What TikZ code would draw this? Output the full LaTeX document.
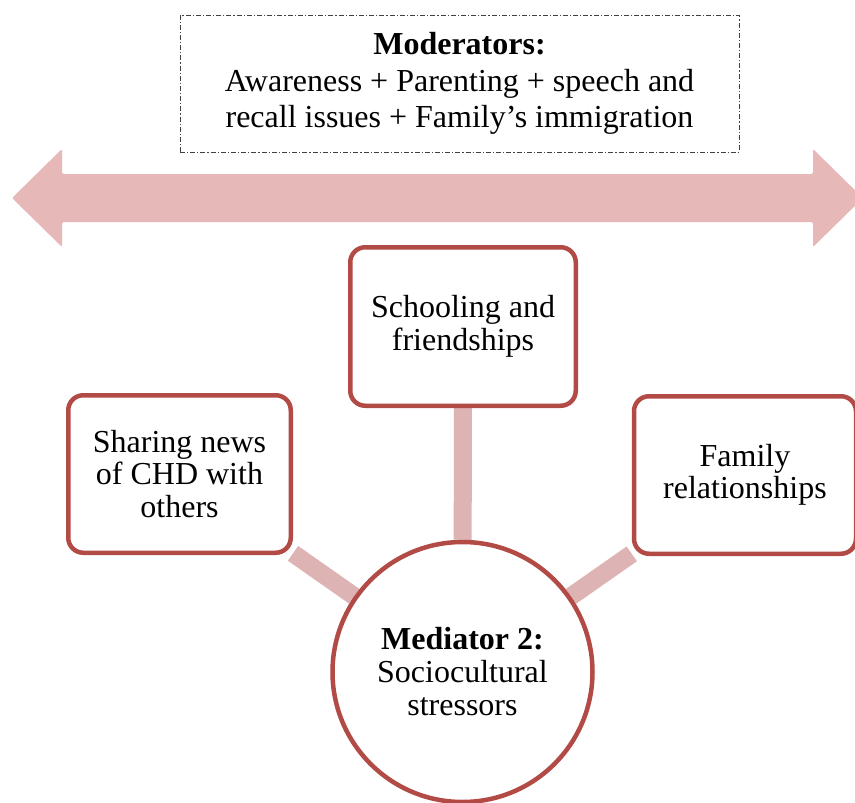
\documentclass[tikz,border=0pt]{standalone}
\usepackage{fontspec}
\setmainfont{Liberation Serif}
\usetikzlibrary{backgrounds}
\definecolor{boxred}{HTML}{B24A46}
\definecolor{linkpink}{HTML}{DDB3B3}
\definecolor{arrowpink}{HTML}{E6B8B7}
\definecolor{framegray}{HTML}{404040}
\begin{document}
\begin{tikzpicture}[x=1pt,y=-1pt,
  stressbox/.style={draw=boxred, line width=4.5pt, rounded corners=15pt, fill=white,
    align=center, inner sep=0pt, font=\fontsize{32}{32.5}\selectfont},
  hub/.style={circle, draw=boxred, line width=4.5pt, fill=white, align=center,
    inner sep=0pt, minimum size=260pt, font=\fontsize{32}{33}\selectfont},
  modbox/.style={draw=framegray, line width=0.9pt,
    dash pattern=on 5pt off 2pt on 1.2pt off 2pt, align=center, inner sep=0pt,
    minimum width=559pt, minimum height=137pt, font=\fontsize{32}{36.5}\selectfont},
  link/.style={linkpink, line width=18pt}]
\useasboundingbox (0,0) rectangle (855,803);

% moderators across the top
\node[modbox] (mod) at (459.5,83.5)
  {\textbf{Moderators:}\\Awareness + Parenting + speech and\\recall issues + Family’s immigration};

% wide double-headed arrow
\fill[arrowpink, rounded corners=2pt]
  (12,198) -- (62,149) -- (62,174) -- (813,174) -- (813,149) -- (863,198)
  -- (813,247) -- (813,222) -- (62,222) -- (62,247) -- cycle;

% stressor boxes and central mediator
\node[stressbox, minimum width=225.5pt, minimum height=158.5pt] (school) at (463,326.5)
  {Schooling and\\friendships};
\node[stressbox, minimum width=222.5pt, minimum height=157.5pt] (share) at (179.5,474)
  {Sharing news\\of CHD with\\others};
\node[stressbox, minimum width=222pt, minimum height=157.5pt] (family) at (745,475)
  {Family\\relationships};
\node[hub] (med) at (462.5,672)
  {\textbf{Mediator 2:}\\Sociocultural\\stressors};

% links from the mediator to each stressor
\begin{scope}[on background layer]
  \draw[link] (school) -- (med);
  \draw[link] (share) -- (med);
  \draw[link] (family) -- (med);
\end{scope}
\end{tikzpicture}
\end{document}
